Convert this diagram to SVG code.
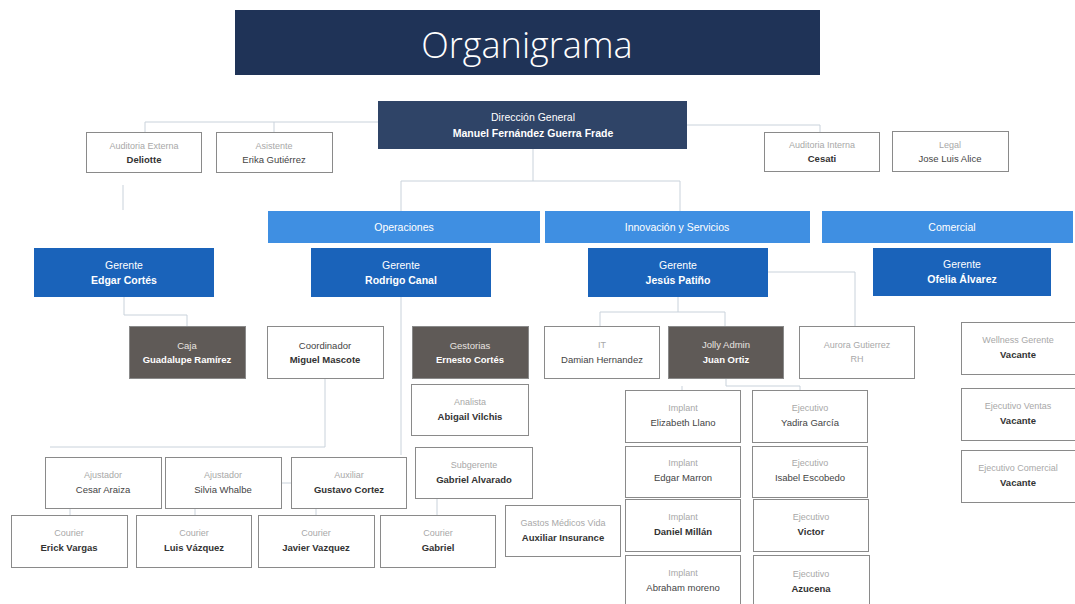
<svg xmlns="http://www.w3.org/2000/svg" width="1075" height="604" viewBox="0 0 1075 604">
<style>
text{font-family:"Liberation Sans",Arial,sans-serif;text-anchor:middle}
.title{font-family:"Open Sans","Noto Sans",sans-serif;font-size:36px;fill:#fff;font-weight:300}
.wbox{fill:#fff;stroke:#8a8a8a;stroke-width:1}
.gbox{fill:#5f5a57;stroke:#8a8a8a;stroke-width:1}
.hdr{fill:#3f8fe2}
.ger{fill:#1a63ba}
.lbl{font-size:9px;fill:#a8a8a8}
.nm{font-size:9.5px;fill:#333;font-weight:bold}
.nmr{font-size:9.5px;fill:#444}
.wl{font-size:9.5px;fill:#e8e4e0}
.wn{font-size:9.5px;fill:#fff;font-weight:bold}
.gl{font-size:10.5px;fill:#fff}
.gn{font-size:10.5px;fill:#fff;font-weight:bold}
.conn line,.conn polyline{stroke:#c9d2db;stroke-width:1;fill:none}
</style>
<rect width="1075" height="604" fill="#fff"/>
<g id="title"><rect x="235" y="10" width="585" height="65" fill="#1f3357"/><text class="title" x="527" y="58">Organigrama</text></g>
<g class="conn" id="connectors">
<polyline points="145,132 145,122 378,122"/>
<polyline points="274,132 274,122"/>
<polyline points="687,125 820,125 820,132"/>
<line x1="123" y1="185" x2="123" y2="210"/>
<line x1="533" y1="149" x2="533" y2="181"/>
<polyline points="401,211 401,181 680,181 680,211"/>
<polyline points="124,297 124,315 187,315 187,326"/>
<line x1="401" y1="297" x2="401" y2="455"/>
<polyline points="325,378 325,447 50,447"/>
<line x1="281" y1="483" x2="291" y2="483"/>
<line x1="70" y1="508" x2="70" y2="515"/>
<line x1="195" y1="508" x2="195" y2="515"/>
<line x1="316" y1="508" x2="316" y2="515"/>
<line x1="437" y1="498" x2="437" y2="515"/>
<polyline points="678,297 678,312"/>
<polyline points="600,326 600,312 725,312 725,326"/>
<polyline points="768,272 855,272 855,326"/>
<polyline points="726,378 726,386 800,386 800,390"/>
<line x1="682" y1="386" x2="682" y2="390"/>
</g>
<g id="n-dg"><rect x="378" y="101" width="309" height="48" fill="#2f4467"/><text class="gl" x="533" y="121">Dirección General</text><text class="gn" x="533" y="137">Manuel Fernández Guerra Frade</text></g>
<g id="n-aud-ext"><rect class="wbox" x="86.5" y="132.5" width="115" height="40"/><text class="lbl" x="144" y="149">Auditoria Externa</text><text class="nm" x="144" y="163">Deliotte</text></g>
<g id="n-asist"><rect class="wbox" x="216.5" y="132.5" width="116" height="40"/><text class="lbl" x="274" y="149">Asistente</text><text class="nmr" x="274" y="163">Erika Gutiérrez</text></g>
<g id="n-aud-int"><rect class="wbox" x="764.5" y="132.5" width="115" height="39"/><text class="lbl" x="822" y="148">Auditoria Interna</text><text class="nm" x="822" y="162">Cesati</text></g>
<g id="n-legal"><rect class="wbox" x="892.5" y="131.5" width="116" height="40"/><text class="lbl" x="950" y="148">Legal</text><text class="nmr" x="950" y="162">Jose Luis Alice</text></g>
<g id="h-oper"><rect class="hdr" x="268" y="211" width="272" height="32"/><text class="gl" x="404" y="231">Operaciones</text></g>
<g id="h-innov"><rect class="hdr" x="545" y="211" width="265" height="32"/><text class="gl" x="677" y="231">Innovación y Servicios</text></g>
<g id="h-com"><rect class="hdr" x="822" y="211" width="251" height="32"/><text class="gl" x="952" y="231">Comercial</text></g>
<g id="n-edgar"><rect class="ger" x="34" y="248" width="180" height="49"/><text class="gl" x="124" y="269">Gerente</text><text class="gn" x="124" y="284">Edgar Cortés</text></g>
<g id="n-rodrigo"><rect class="ger" x="311" y="248" width="180" height="49"/><text class="gl" x="401" y="269">Gerente</text><text class="gn" x="401" y="284">Rodrigo Canal</text></g>
<g id="n-jesus"><rect class="ger" x="588" y="248" width="180" height="49"/><text class="gl" x="678" y="269">Gerente</text><text class="gn" x="678" y="284">Jesús Patiño</text></g>
<g id="n-ofelia"><rect class="ger" x="873" y="248" width="178" height="48"/><text class="gl" x="962" y="268">Gerente</text><text class="gn" x="962" y="283">Ofelia Álvarez</text></g>
<g id="n-caja"><rect class="gbox" x="129.5" y="326.5" width="116" height="52"/><text class="wl" x="187" y="349">Caja</text><text class="wn" x="187" y="363">Guadalupe Ramírez</text></g>
<g id="n-coord"><rect class="wbox" x="267.5" y="326.5" width="116" height="52"/><text class="nmr" x="325" y="349">Coordinador</text><text class="nm" x="325" y="363">Miguel Mascote</text></g>
<g id="n-gestorias"><rect class="gbox" x="412.5" y="326.5" width="116" height="52"/><text class="wl" x="470" y="349">Gestorias</text><text class="wn" x="470" y="363">Ernesto Cortés</text></g>
<g id="n-abigail"><rect class="wbox" x="411.5" y="384.5" width="117" height="51"/><text class="lbl" x="470" y="405">Analista</text><text class="nm" x="470" y="420">Abigail Vilchis</text></g>
<g id="n-galvarado"><rect class="wbox" x="415.5" y="447.5" width="117" height="51"/><text class="lbl" x="474" y="468">Subgerente</text><text class="nm" x="474" y="483">Gabriel Alvarado</text></g>
<g id="n-cesar"><rect class="wbox" x="45.5" y="457.5" width="116" height="51"/><text class="lbl" x="103" y="478">Ajustador</text><text class="nmr" x="103" y="493">Cesar Araiza</text></g>
<g id="n-silvia"><rect class="wbox" x="165.5" y="457.5" width="116" height="51"/><text class="lbl" x="223" y="478">Ajustador</text><text class="nmr" x="223" y="493">Silvia Whalbe</text></g>
<g id="n-gustavo"><rect class="wbox" x="291.5" y="457.5" width="115" height="51"/><text class="lbl" x="349" y="478">Auxiliar</text><text class="nm" x="349" y="493">Gustavo Cortez</text></g>
<g id="n-erick"><rect class="wbox" x="11.5" y="515.5" width="116" height="52"/><text class="lbl" x="69" y="536">Courier</text><text class="nm" x="69" y="551">Erick Vargas</text></g>
<g id="n-luis"><rect class="wbox" x="136.5" y="515.5" width="115" height="52"/><text class="lbl" x="194" y="536">Courier</text><text class="nm" x="194" y="551">Luis Vázquez</text></g>
<g id="n-javier"><rect class="wbox" x="258.5" y="515.5" width="116" height="52"/><text class="lbl" x="316" y="536">Courier</text><text class="nm" x="316" y="551">Javier Vazquez</text></g>
<g id="n-gabriel"><rect class="wbox" x="380.5" y="515.5" width="115" height="52"/><text class="lbl" x="438" y="536">Courier</text><text class="nm" x="438" y="551">Gabriel</text></g>
<g id="n-auxins"><rect class="wbox" x="505.5" y="505.5" width="115" height="51"/><text class="lbl" x="563" y="526">Gastos Médicos Vida</text><text class="nm" x="563" y="541">Auxiliar Insurance</text></g>
<g id="n-damian"><rect class="wbox" x="544.5" y="326.5" width="115" height="52"/><text class="lbl" x="602" y="348">IT</text><text class="nmr" x="602" y="363">Damian Hernandez</text></g>
<g id="n-juan"><rect class="gbox" x="668.5" y="326.5" width="115" height="52"/><text class="wl" x="726" y="348">Jolly Admin</text><text class="wn" x="726" y="363">Juan Ortiz</text></g>
<g id="n-aurora"><rect class="wbox" x="799.5" y="326.5" width="115" height="52"/><text class="lbl" x="857" y="348">Aurora Gutierrez</text><text class="lbl" x="857" y="362">RH</text></g>
<g id="n-elizabeth"><rect class="wbox" x="625.5" y="390.5" width="115" height="52"/><text class="lbl" x="683" y="411">Implant</text><text class="nmr" x="683" y="426">Elizabeth Llano</text></g>
<g id="n-edgarm"><rect class="wbox" x="625.5" y="446.5" width="115" height="51"/><text class="lbl" x="683" y="466">Implant</text><text class="nmr" x="683" y="481">Edgar Marron</text></g>
<g id="n-daniel"><rect class="wbox" x="625.5" y="499.5" width="115" height="52"/><text class="lbl" x="683" y="520">Implant</text><text class="nm" x="683" y="535">Daniel Millán</text></g>
<g id="n-abraham"><rect class="wbox" x="625.5" y="555.5" width="115" height="52"/><text class="lbl" x="683" y="576">Implant</text><text class="nmr" x="683" y="591">Abraham moreno</text></g>
<g id="n-yadira"><rect class="wbox" x="752.5" y="390.5" width="115" height="52"/><text class="lbl" x="810" y="411">Ejecutivo</text><text class="nmr" x="810" y="426">Yadira García</text></g>
<g id="n-isabel"><rect class="wbox" x="752.5" y="446.5" width="115" height="51"/><text class="lbl" x="810" y="466">Ejecutivo</text><text class="nmr" x="810" y="481">Isabel Escobedo</text></g>
<g id="n-victor"><rect class="wbox" x="753.5" y="499.5" width="115" height="52"/><text class="lbl" x="811" y="520">Ejecutivo</text><text class="nm" x="811" y="535">Victor</text></g>
<g id="n-azucena"><rect class="wbox" x="753.5" y="555.5" width="116" height="52"/><text class="lbl" x="811" y="577">Ejecutivo</text><text class="nm" x="811" y="592">Azucena</text></g>
<g id="n-vac1"><rect class="wbox" x="961.5" y="322.5" width="114" height="52"/><text class="lbl" x="1018" y="343">Wellness Gerente</text><text class="nm" x="1018" y="358">Vacante</text></g>
<g id="n-vac2"><rect class="wbox" x="961.5" y="388.5" width="114" height="52"/><text class="lbl" x="1018" y="409">Ejecutivo Ventas</text><text class="nm" x="1018" y="424">Vacante</text></g>
<g id="n-vac3"><rect class="wbox" x="961.5" y="450.5" width="114" height="52"/><text class="lbl" x="1018" y="471">Ejecutivo Comercial</text><text class="nm" x="1018" y="486">Vacante</text></g>
</svg>
